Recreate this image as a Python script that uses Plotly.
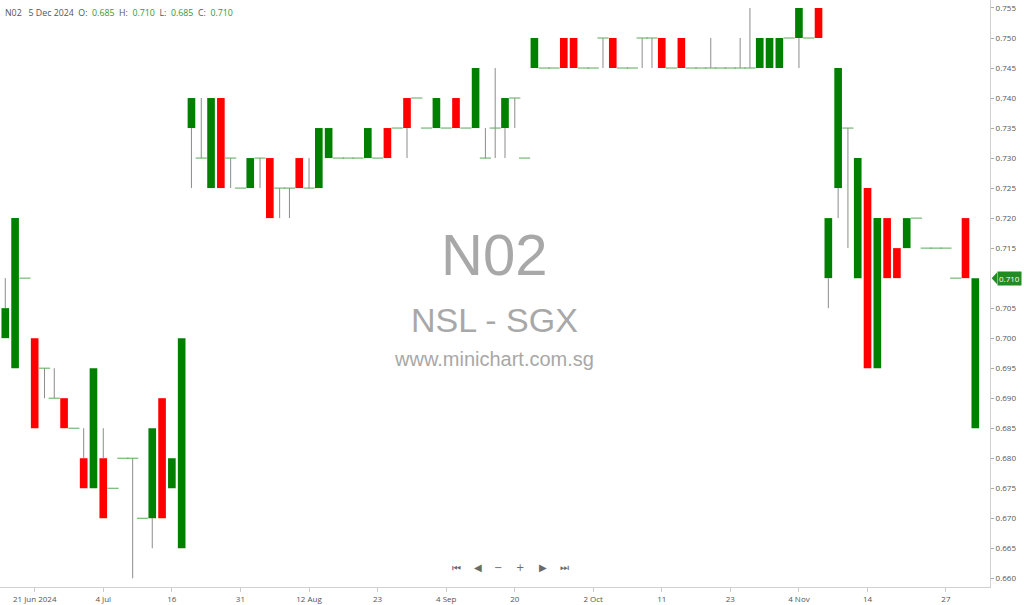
import plotly.graph_objects as go

# ---------------- data (one candle per traded day) ----------------
opens = [0.700, 0.695, 0.710, 0.700, 0.695, 0.690, 0.690, 0.685, 0.680, 0.675,
         0.680, 0.675, 0.680, 0.680, 0.670, 0.670, 0.690, 0.675, 0.665, 0.735,
         0.730, 0.725, 0.740, 0.730, 0.725, 0.725, 0.730, 0.730, 0.725, 0.725,
         0.730, 0.725, 0.725, 0.730, 0.730, 0.730, 0.730, 0.730, 0.730, 0.735,
         0.735, 0.740, 0.740, 0.735, 0.735, 0.735, 0.740, 0.735, 0.735, 0.730,
         0.735, 0.735, 0.740, 0.730, 0.745, 0.745, 0.745, 0.750, 0.750, 0.745,
         0.745, 0.750, 0.750, 0.745, 0.745, 0.750, 0.750, 0.750, 0.745, 0.750,
         0.745, 0.745, 0.745, 0.745, 0.745, 0.745, 0.745, 0.745, 0.745, 0.745,
         0.750, 0.750, 0.750, 0.755, 0.710, 0.725, 0.735, 0.710, 0.725, 0.695,
         0.720, 0.715, 0.715, 0.720, 0.715, 0.715, 0.715, 0.710, 0.720, 0.685]
highs = [0.710, 0.720, 0.710, 0.700, 0.695, 0.695, 0.690, 0.685, 0.685, 0.695,
         0.685, 0.675, 0.680, 0.680, 0.670, 0.685, 0.690, 0.680, 0.700, 0.740,
         0.740, 0.740, 0.740, 0.730, 0.725, 0.730, 0.730, 0.730, 0.725, 0.725,
         0.730, 0.730, 0.735, 0.735, 0.730, 0.730, 0.730, 0.735, 0.730, 0.735,
         0.735, 0.740, 0.740, 0.735, 0.740, 0.735, 0.740, 0.735, 0.745, 0.735,
         0.745, 0.740, 0.740, 0.730, 0.750, 0.745, 0.745, 0.750, 0.750, 0.745,
         0.745, 0.750, 0.750, 0.745, 0.745, 0.750, 0.750, 0.750, 0.745, 0.750,
         0.745, 0.745, 0.750, 0.745, 0.745, 0.750, 0.755, 0.750, 0.750, 0.750,
         0.750, 0.755, 0.750, 0.755, 0.720, 0.745, 0.735, 0.730, 0.725, 0.720,
         0.720, 0.715, 0.720, 0.720, 0.715, 0.715, 0.715, 0.710, 0.720, 0.710]
lows = [0.700, 0.695, 0.710, 0.685, 0.690, 0.690, 0.685, 0.685, 0.675, 0.675,
        0.670, 0.675, 0.680, 0.660, 0.670, 0.665, 0.670, 0.675, 0.665, 0.725,
        0.730, 0.725, 0.725, 0.725, 0.725, 0.725, 0.725, 0.720, 0.720, 0.720,
        0.725, 0.725, 0.725, 0.730, 0.730, 0.730, 0.730, 0.730, 0.730, 0.730,
        0.735, 0.730, 0.740, 0.735, 0.735, 0.735, 0.735, 0.735, 0.735, 0.730,
        0.730, 0.730, 0.735, 0.730, 0.745, 0.745, 0.745, 0.745, 0.745, 0.745,
        0.745, 0.745, 0.745, 0.745, 0.745, 0.745, 0.745, 0.745, 0.745, 0.745,
        0.745, 0.745, 0.745, 0.745, 0.745, 0.745, 0.745, 0.745, 0.745, 0.745,
        0.750, 0.745, 0.750, 0.750, 0.705, 0.720, 0.715, 0.710, 0.695, 0.695,
        0.710, 0.710, 0.715, 0.720, 0.715, 0.715, 0.715, 0.710, 0.710, 0.685]
closes = [0.705, 0.720, 0.710, 0.685, 0.695, 0.690, 0.685, 0.685, 0.675, 0.695,
          0.670, 0.675, 0.680, 0.680, 0.670, 0.685, 0.670, 0.680, 0.700, 0.740,
          0.730, 0.740, 0.725, 0.730, 0.725, 0.730, 0.730, 0.720, 0.725, 0.725,
          0.725, 0.725, 0.735, 0.735, 0.730, 0.730, 0.730, 0.735, 0.730, 0.730,
          0.735, 0.735, 0.740, 0.735, 0.740, 0.735, 0.735, 0.735, 0.745, 0.730,
          0.735, 0.740, 0.740, 0.730, 0.750, 0.745, 0.745, 0.745, 0.745, 0.745,
          0.745, 0.750, 0.745, 0.745, 0.745, 0.750, 0.750, 0.745, 0.745, 0.745,
          0.745, 0.745, 0.745, 0.745, 0.745, 0.745, 0.745, 0.750, 0.750, 0.750,
          0.750, 0.755, 0.750, 0.750, 0.720, 0.745, 0.735, 0.730, 0.695, 0.720,
          0.710, 0.710, 0.720, 0.720, 0.715, 0.715, 0.715, 0.710, 0.710, 0.710]

tick_labels = ["21 Jun 2024", "4 Jul", "16", "31", "12 Aug", "23", "4 Sep",
               "20", "2 Oct", "11", "23", "4 Nov", "14", "27"]
tick_index = [3, 10, 17, 24, 31, 38, 45, 52, 60, 67, 74, 81, 88, 96]

price_ticks = [0.660, 0.665, 0.670, 0.675, 0.680, 0.685, 0.690, 0.695, 0.700,
               0.705, 0.710, 0.715, 0.720, 0.725, 0.730, 0.735, 0.740, 0.745,
               0.750, 0.755]

ticker = "N02"
company = "NSL - SGX"
site = "www.minichart.com.sg"
last_date = "5 Dec 2024"

# ---------------- styling ----------------
UP = "#008000"
DOWN = "#ff0000"
DOJI = "#5aa85a"
WICK = "#8c8c8c"
TAG = "#238b23"
FONT = "Open Sans"

n = len(opens)
xs = list(range(n))
c_last = closes[-1]

# wicks: only the parts outside the body (scatter is drawn above bars)
wick_x, wick_y = [], []
for i in xs:
    top = max(opens[i], closes[i])
    bot = min(opens[i], closes[i])
    if highs[i] > top:
        wick_x += [i, i, None]
        wick_y += [top, highs[i], None]
    if lows[i] < bot:
        wick_x += [i, i, None]
        wick_y += [lows[i], bot, None]

body_x = [i for i in xs if opens[i] != closes[i]]
body_base = [min(opens[i], closes[i]) for i in body_x]
body_h = [abs(closes[i] - opens[i]) for i in body_x]
body_col = [UP if closes[i] > opens[i] else DOWN for i in body_x]

doji_x = [i for i in xs if opens[i] == closes[i]]
doji_y = [closes[i] for i in doji_x]

# the last-price tag covers its own axis label
shown_ticks = [t for t in price_ticks if abs(t - c_last) > 1e-9]

fig = go.Figure()
fig.add_trace(go.Bar(x=body_x, y=body_h, base=body_base, width=0.78,
                     marker=dict(color=body_col, line=dict(width=0)),
                     showlegend=False))
fig.add_trace(go.Scatter(x=wick_x, y=wick_y, mode="lines",
                         line=dict(color=WICK, width=1), hoverinfo="skip",
                         showlegend=False))
fig.add_trace(go.Scatter(x=doji_x, y=doji_y, mode="markers",
                         marker=dict(symbol="line-ew", size=8,
                                     line=dict(color=DOJI, width=1)),
                         showlegend=False))

fig.update_layout(
    width=1024, height=605,
    margin=dict(l=0, r=34, t=0, b=18),
    paper_bgcolor="white", plot_bgcolor="white",
    showlegend=False,
    font=dict(family=FONT, size=8, color="#555555"),
    xaxis=dict(range=[-0.54, 100.5], tickmode="array", tickvals=tick_index,
               ticktext=tick_labels, ticks="outside", ticklen=4,
               tickcolor="#cccccc", showline=True, linecolor="#d0d0d0",
               showgrid=False, zeroline=False,
               tickfont=dict(size=8, color="#555555")),
    yaxis=dict(range=[0.65855, 0.75633], side="right", tickmode="array",
               tickvals=shown_ticks, tickformat=".3f", ticks="outside",
               ticklen=3, tickcolor="#aaaaaa", showline=True,
               linecolor="#d0d0d0", showgrid=False, zeroline=False,
               tickfont=dict(size=8, color="#555555")),
)

# watermark
fig.add_annotation(text=ticker, xref="paper", yref="paper", x=0.499, y=0.567,
                   showarrow=False, font=dict(family="Liberation Sans", size=58,
                                              color="#a8a8a8"))
fig.add_annotation(text=company, xref="paper", yref="paper", x=0.499, y=0.455,
                   showarrow=False, font=dict(family="Liberation Sans", size=34,
                                              color="#a8a8a8"))
fig.add_annotation(text=site, xref="paper", yref="paper", x=0.499, y=0.388,
                   showarrow=False, font=dict(family="Liberation Sans", size=20,
                                              color="#a8a8a8"))

# header
g = "<span style='color:#2f9a2f'>%.3f</span>"
sp = "&nbsp;&nbsp;"
header = (ticker + sp + "&nbsp;" + last_date + sp + "O:" + sp + g % opens[-1] + sp +
          "H:" + sp + g % highs[-1] + sp + "L:" + sp + g % lows[-1] + sp +
          "C:" + sp + g % closes[-1])
fig.add_annotation(text=header, xref="paper", yref="paper", x=0.003, y=0.978,
                   xanchor="left", yanchor="middle", showarrow=False,
                   font=dict(family=FONT, size=8.8, color="#555555"))

# last price tag
h = 0.001
fig.add_shape(type="path", xref="paper", yref="y",
              path=f"M 1.0017,{c_last} L 1.0072,{c_last + h} L 1.0072,{c_last - h} Z",
              fillcolor=TAG, line=dict(width=0))
fig.add_annotation(text="%.3f" % c_last, xref="paper", yref="y", x=1.0068,
                   y=c_last, xanchor="left", yanchor="middle", showarrow=False,
                   bgcolor=TAG, borderpad=1,
                   font=dict(family=FONT, size=8, color="white"))

# navigation buttons
nav = ["⏮", "◀", "−", "+", "▶", "⏭"]
nav_px = [456, 477.5, 498, 520, 542.5, 564]
for s, px in zip(nav, nav_px):
    fig.add_annotation(text=s, xref="paper", yref="paper", x=px / 990, y=0.0204,
                       showarrow=False,
                       font=dict(family="DejaVu Sans", size=10, color="#6a6a6a"))

fig.write_html("out.html",
               config={"displayModeBar": False},
               post_script="document.body.style.margin='0';"
                           "document.body.style.overflow='hidden';")
